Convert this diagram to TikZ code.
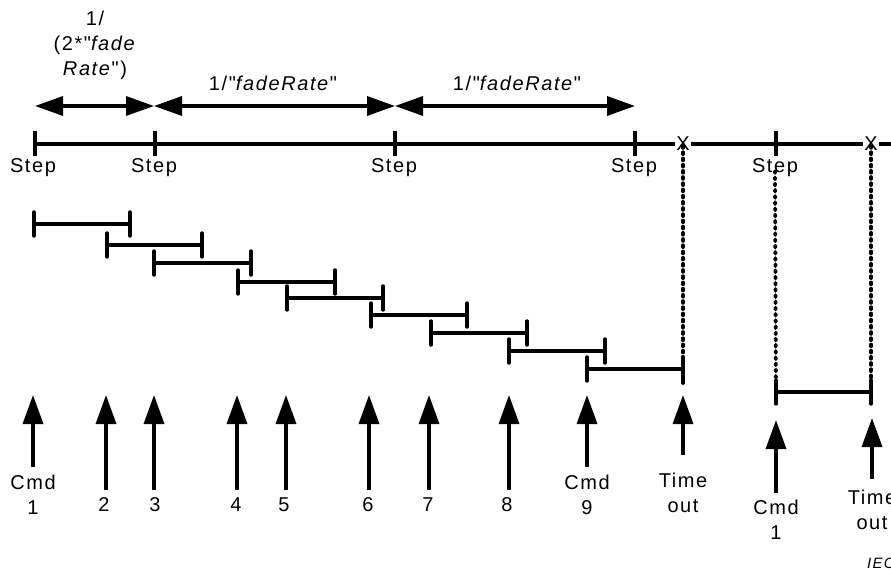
\documentclass[tikz,border=0pt]{standalone}
\usepackage{fontspec}
\setmainfont{Liberation Sans}[LetterSpace=8,Ligatures=TeXOff]
\usetikzlibrary{arrows.meta}
\begin{document}
\begin{tikzpicture}[x=1pt,y=-1pt,
  lbl/.style={font=\fontsize{20}{25}\selectfont, inner sep=0pt, align=center},
  axis/.style={line width=3.4pt},
  bar/.style={line width=3.4pt, line cap=round},
  dotline/.style={line width=3.8pt, line cap=round, dash pattern=on 1.8pt off 4.4pt},
  up/.style={line width=3.4pt, -{Triangle[length=29pt,width=20pt]}},
  dim/.style={line width=3.4pt, {Triangle[length=28pt,width=19pt]}-{Triangle[length=28pt,width=19pt]}},
]
\useasboundingbox (0,0) rectangle (891,572);

% ---- dimension arrows ----
\coordinate (d0) at (35,106);
\coordinate (d1) at (154,106);
\coordinate (d2) at (395,106);
\coordinate (d3) at (635,106);
\draw[dim] (d0) -- (d1);
\draw[dim] (d1) -- (d2);
\draw[dim] (d2) -- (d3);
\node[lbl] (dl1) at (95,45) {1/\\(2*"\textit{fade}\\\textit{Rate}")};
\node[lbl] (dl2) at (273,83) {1/"\textit{fadeRate}"};
\node[lbl] (dl3) at (517,83) {1/"\textit{fadeRate}"};

% ---- timeline ----
\coordinate (t0) at (35,144);
\coordinate (tend) at (895,144);
\node[lbl] (x1) at (683,144) {X};
\node[lbl] (x2) at (871,144) {X};
\draw[axis] (t0) -- ([xshift=-1pt]x1.west);
\draw[axis] ([xshift=1pt]x1.east) -- ([xshift=-1pt]x2.west);
\draw[axis] ([xshift=1pt]x2.east) -- (tend);
\foreach \i/\x/\lx in {0/35/33, 1/155/154, 2/395/394, 3/635/634, 4/776/775} {
  \coordinate (tk\i) at (\x,144);
  \draw[axis] ([yshift=-12.5pt]tk\i) -- ([yshift=12.5pt]tk\i);
  \node[lbl] (st\i) at (\lx,168) {Step};
}

% ---- interval bars ----
\foreach \i/\a/\b/\y in {1/34/130/224, 2/107/202/245, 3/154/251/263, 4/238/335/282,
                         5/287/383/298, 6/371/467/315, 7/431/527/333, 8/509/605/351,
                         9/587/683/369, 10/776/871/392} {
  \coordinate (ba\i) at (\a,\y);
  \coordinate (bb\i) at (\b,\y);
  \draw[bar] ([yshift=-12pt]ba\i) -- ([yshift=12pt]ba\i);
  \draw[bar] ([yshift=-12pt]bb\i) -- ([yshift=12pt]bb\i);
  \draw[bar] (ba\i) -- (bb\i);
}

% ---- dotted connectors ----
\draw[dotline] ([yshift=5pt]x1.south) -- ([yshift=-14pt]bb9);
\draw[dotline] ([yshift=6pt]st4.south) -- ([yshift=-14pt]ba10);
\draw[dotline] ([yshift=5pt]x2.south) -- ([yshift=-14pt]bb10);

% ---- command arrows, first group ----
\foreach \i/\x/\e in {1/33/467, 2/106/490, 3/154/490, 4/237/490, 5/286/490,
                      6/369/490, 7/429/490, 8/509/490, 9/587/467, 10/683/455} {
  \coordinate (ct\i) at (\x,395);
  \coordinate (cs\i) at (\x,\e);
  \draw[up] (cs\i) -- (ct\i);
}
\node[lbl] (cl1) at (33,494.5) {Cmd\\1};
\foreach \i/\x in {2/104, 3/155, 4/236, 5/284, 6/368, 7/428, 8/507} {
  \node[lbl] (cl\i) at (\x,505) {\i};
}
\node[lbl] (cl9) at (587,494.5) {Cmd\\9};
\node[lbl] (cl10) at (683,492.5) {Time\\out};

% ---- second group ----
\coordinate (ct11) at (776,420);
\coordinate (cs11) at (776,493);
\draw[up] (cs11) -- (ct11);
\node[lbl] (cl11) at (776,519.5) {Cmd\\1};
\coordinate (ct12) at (872,418);
\coordinate (cs12) at (872,479);
\draw[up] (cs12) -- (ct12);
\node[lbl] (cl12) at (872,509.5) {Time\\out};

% ---- figure reference ----
\node[font=\fontsize{15}{18}\selectfont\itshape, inner sep=0pt, anchor=west] (iec) at (867,563) {IEC};
\end{tikzpicture}
\end{document}
